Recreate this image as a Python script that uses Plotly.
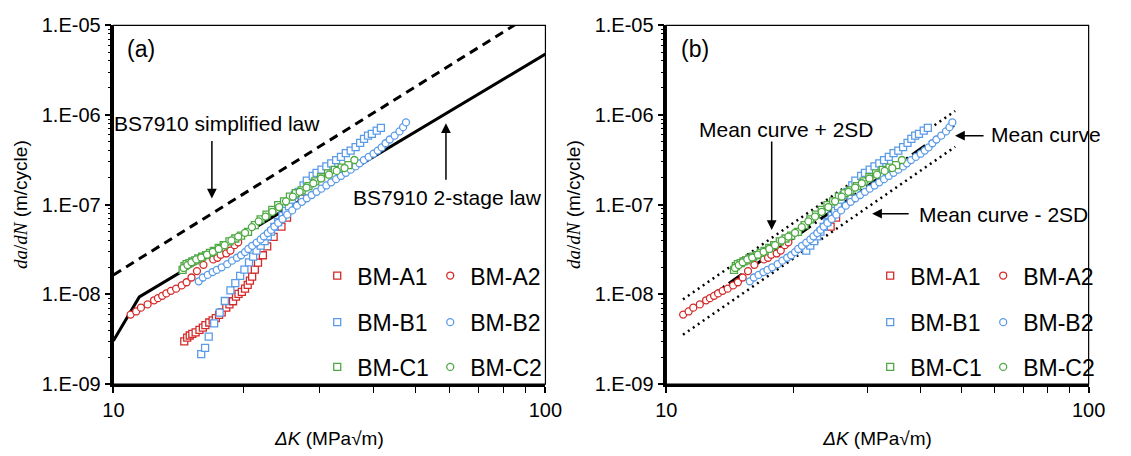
import plotly.graph_objects as go

# ---------------- data ----------------
A1_K = [14.59, 14.82, 15.02, 15.23, 15.50, 15.82, 16.11, 16.33, 16.67, 16.97, 17.26, 17.56, 17.81,
        18.25, 18.56, 18.92, 19.22, 19.48, 19.83, 20.17, 20.46, 20.70, 20.95, 21.25, 21.61, 22.18,
        22.70, 23.49, 24.49, 25.23, 25.79, 27.31]
A1_da = [3.00e-9, 3.29e-9, 3.48e-9, 3.62e-9, 3.77e-9, 4.03e-9, 4.26e-9, 4.55e-9, 4.86e-9, 5.14e-9,
         5.44e-9, 5.91e-9, 6.30e-9, 7.11e-9, 7.73e-9, 8.38e-9, 9.46e-9, 1.011e-8, 1.069e-8, 1.159e-8,
         1.279e-8, 1.423e-8, 1.581e-8, 1.89e-8, 2.26e-8, 2.73e-8, 3.43e-8, 4.38e-8, 5.70e-8, 7.19e-8,
         9.11e-8, 1.164e-7]

A2_K = [10.96, 11.29, 11.58, 12.00, 12.42, 12.68, 12.97, 13.26, 13.59, 13.97, 14.39, 14.77, 15.16,
        15.61, 16.16, 17.02, 17.41, 17.71, 18.25, 18.66, 19.08, 19.45]
A2_da = [5.95e-9, 6.45e-9, 7.11e-9, 7.73e-9, 8.59e-9, 9.08e-9, 9.63e-9, 1.026e-8, 1.096e-8, 1.159e-8,
         1.260e-8, 1.366e-8, 1.543e-8, 1.817e-8, 2.135e-8, 2.455e-8, 2.56e-8, 2.77e-8, 2.86e-8,
         3.08e-8, 3.54e-8, 3.81e-8]

B1_K = [15.97, 16.30, 16.62, 17.11, 17.62, 18.11, 18.66, 19.15, 19.65, 20.10, 20.60, 21.06, 21.44,
        21.92, 22.39, 22.77, 23.17, 23.58, 24.07, 24.62, 25.09, 25.49, 25.89, 26.30, 26.85, 27.56,
        28.03, 28.93, 29.53, 30.31, 31.11, 31.93, 32.77, 33.63, 34.51, 35.42, 36.36, 37.25, 38.03,
        38.84, 39.65, 40.69, 41.61]
B1_da = [2.16e-9, 2.53e-9, 3.39e-9, 4.74e-9, 6.25e-9, 8.44e-9, 1.110e-8, 1.332e-8, 1.608e-8, 1.89e-8,
         2.27e-8, 2.64e-8, 3.08e-8, 3.50e-8, 3.93e-8, 4.44e-8, 5.02e-8, 5.67e-8, 6.41e-8, 7.55e-8,
         8.53e-8, 9.64e-8, 1.136e-7, 1.283e-7, 1.390e-7, 1.638e-7, 1.851e-7, 2.091e-7, 2.267e-7,
         2.458e-7, 2.67e-7, 2.89e-7, 3.14e-7, 3.41e-7, 3.76e-7, 4.01e-7, 4.38e-7, 4.89e-7, 5.42e-7,
         5.88e-7, 6.17e-7, 6.69e-7, 7.20e-7]

B2_K = [15.76, 16.11, 16.53, 16.97, 17.35, 17.81, 18.34, 18.82, 19.32, 19.75, 20.17, 20.52, 20.95,
        21.44, 21.92, 22.30, 22.77, 23.17, 23.58, 24.07, 24.62, 25.26, 25.93, 26.61, 27.31, 28.03,
        28.77, 29.53, 30.31, 31.11, 31.93, 32.77, 33.63, 34.51, 35.42, 36.36, 37.12, 37.98, 38.97,
        40.00, 40.91, 41.78, 42.65, 43.61, 44.76, 45.94, 46.83, 47.56]
B2_da = [1.399e-8, 1.543e-8, 1.648e-8, 1.774e-8, 1.876e-8, 2.004e-8, 2.172e-8, 2.377e-8, 2.56e-8,
         2.73e-8, 2.96e-8, 3.21e-8, 3.48e-8, 3.78e-8, 4.10e-8, 4.44e-8, 4.83e-8, 5.23e-8, 5.70e-8,
         6.26e-8, 6.93e-8, 7.74e-8, 8.64e-8, 9.76e-8, 1.076e-7, 1.180e-7, 1.283e-7, 1.390e-7, 1.508e-7,
         1.638e-7, 1.776e-7, 1.925e-7, 2.091e-7, 2.267e-7, 2.458e-7, 2.67e-7, 2.89e-7, 3.14e-7,
         3.41e-7, 3.70e-7, 4.01e-7, 4.35e-7, 4.84e-7, 5.33e-7, 5.88e-7, 6.56e-7, 7.32e-7, 8.27e-7]

C1_K = [14.46, 14.61, 14.77, 15.00, 15.23, 15.47, 15.72, 16.05, 16.39, 16.73, 17.08, 17.53, 18.00,
        18.56, 19.15, 19.75, 20.49, 21.25, 21.92, 22.62, 23.33, 24.07, 24.83, 25.62, 26.43, 27.27,
        28.28, 29.33, 30.25, 31.38, 32.54, 33.75, 34.99]
C1_da = [1.876e-8, 2.068e-8, 2.172e-8, 2.226e-8, 2.337e-8, 2.394e-8, 2.514e-8, 2.64e-8, 2.74e-8,
         2.91e-8, 3.06e-8, 3.29e-8, 3.54e-8, 3.90e-8, 4.20e-8, 4.52e-8, 4.98e-8, 5.91e-8, 6.85e-8,
         7.74e-8, 8.74e-8, 9.88e-8, 1.089e-7, 1.231e-7, 1.341e-7, 1.443e-7, 1.610e-7, 1.820e-7,
         2.031e-7, 2.239e-7, 2.440e-7, 2.593e-7, 2.756e-7]

C2_K = [14.54, 14.84, 15.16, 15.55, 15.97, 16.47, 16.99, 17.53, 18.09, 18.76, 19.45, 20.17, 20.92,
        21.69, 22.50, 23.33, 24.19, 25.09, 26.02, 26.99, 27.99, 29.03, 30.25, 31.54, 32.88, 34.28,
        36.12]
C2_da = [1.970e-8, 2.120e-8, 2.281e-8, 2.455e-8, 2.577e-8, 2.77e-8, 2.98e-8, 3.21e-8, 3.54e-8,
         4.00e-8, 4.41e-8, 4.86e-8, 5.63e-8, 6.52e-8, 7.37e-8, 8.33e-8, 9.41e-8, 1.089e-7, 1.231e-7,
         1.390e-7, 1.552e-7, 1.733e-7, 1.958e-7, 2.158e-7, 2.380e-7, 2.562e-7, 3.15e-7]

# panel (b) only shows the stage-II (Paris region) part of A1 and B1
A1_b_start_K = 24.0
B1_b_start_K = 21.3

# BS7910 laws (panel a)
simp_K = [10, 100]
simp_da = [1.647e-8, 1.647e-5]
two_K = [10, 11.48, 100]
two_da = [3.04e-9, 9.38e-9, 4.78e-6]

# Mean curve and +/- 2SD (panel b)
mean_K = [10.95, 48.3]
mean_da = [5.8e-9, 7.82e-7]
upper_da = [8.8e-9, 1.109e-6]
lower_da = [3.55e-9, 4.42e-7]

y_tickvals = [1e-9, 1e-8, 1e-7, 1e-6, 1e-5]
y_ticktext = ["1.E-09", "1.E-08", "1.E-07", "1.E-06", "1.E-05"]
x_tickvals = [10, 100]
x_ticktext = ["10", "100"]


def subset(K, da, kmin):
    pairs = [(k, d) for k, d in zip(K, da) if k >= kmin]
    return [p[0] for p in pairs], [p[1] for p in pairs]


A1b_K, A1b_da = subset(A1_K, A1_da, A1_b_start_K)
B1b_K, B1b_da = subset(B1_K, B1_da, B1_b_start_K)

RED, BLUE, GREEN = "#D42A2A", "#5A9BE8", "#4EA843"
series_a = [
    ("BM-A1", A1_K, A1_da, "square", RED),
    ("BM-A2", A2_K, A2_da, "circle", RED),
    ("BM-B1", B1_K, B1_da, "square", BLUE),
    ("BM-B2", B2_K, B2_da, "circle", BLUE),
    ("BM-C1", C1_K, C1_da, "square", GREEN),
    ("BM-C2", C2_K, C2_da, "circle", GREEN),
]
series_b = [
    ("BM-A1", A1b_K, A1b_da, "square", RED),
    ("BM-A2", A2_K, A2_da, "circle", RED),
    ("BM-B1", B1b_K, B1b_da, "square", BLUE),
    ("BM-B2", B2_K, B2_da, "circle", BLUE),
    ("BM-C1", C1_K, C1_da, "square", GREEN),
    ("BM-C2", C2_K, C2_da, "circle", GREEN),
]

FONT = "Liberation Sans, Arial, sans-serif"
W, H = 1131, 456

fig = go.Figure()

# lines panel a
fig.add_trace(go.Scatter(x=simp_K, y=simp_da, mode="lines", line=dict(color="black", width=3, dash="9px,6px"),
                         showlegend=False, xaxis="x", yaxis="y"))
fig.add_trace(go.Scatter(x=two_K, y=two_da, mode="lines", line=dict(color="black", width=3),
                         showlegend=False, xaxis="x", yaxis="y"))
# lines panel b
fig.add_trace(go.Scatter(x=mean_K, y=mean_da, mode="lines", line=dict(color="black", width=3, dash="16px,5px,2px,5px"),
                         showlegend=False, xaxis="x2", yaxis="y2"))
fig.add_trace(go.Scatter(x=mean_K, y=upper_da, mode="lines", line=dict(color="black", width=2.5, dash="2px,4px"),
                         showlegend=False, xaxis="x2", yaxis="y2"))
fig.add_trace(go.Scatter(x=mean_K, y=lower_da, mode="lines", line=dict(color="black", width=2.5, dash="2px,4px"),
                         showlegend=False, xaxis="x2", yaxis="y2"))

# one horizontal legend per legend row (2 entries each), 3 rows per panel
legend_names = [["legend", "legend2", "legend3"], ["legend4", "legend5", "legend6"]]
for panel, (xa, ya, ser) in enumerate([("x", "y", series_a), ("x2", "y2", series_b)]):
    for i, (name, K, da, sym, col) in enumerate(ser):
        fig.add_trace(go.Scatter(
            x=K, y=da, mode="markers", name=name,
            marker=dict(symbol=sym, size=7, color="white", line=dict(color=col, width=1.3)),
            xaxis=xa, yaxis=ya, legend=legend_names[panel][i // 2],
        ))

xd1 = [105 / W, 548 / W]
xd2 = [672 / W, 1105 / W]
yd = [1 - 392 / H, 1 - 15 / H]

minor_x = [20, 30, 40, 50, 60, 70, 80, 90]
minor_y = [m * 10.0 ** e for e in range(-9, -5) for m in range(2, 10)]


def xaxis(domain, anchor):
    return dict(type="log", range=[1, 2], domain=domain, anchor=anchor,
                tickvals=x_tickvals, ticktext=x_ticktext, ticks="outside", ticklen=6, tickwidth=1.5,
                tickcolor="black", showline=True, linecolor="black", linewidth=2.5, mirror=False,
                showgrid=False, zeroline=False,
                tickfont=dict(family=FONT, size=20, color="black"),
                minor=dict(tickvals=minor_x, ticks="outside", ticklen=6, tickwidth=1.3, tickcolor="black", showgrid=False),
                title=dict(text="<i>ΔK</i> (MPa√m)", font=dict(family=FONT, size=19, color="black"), standoff=12))


def yaxis(domain, anchor):
    return dict(type="log", range=[-9, -5], domain=domain, anchor=anchor,
                tickvals=y_tickvals, ticktext=y_ticktext, ticks="outside", ticklen=6, tickwidth=1.5,
                tickcolor="black", showline=True, linecolor="black", linewidth=2.5, mirror=False,
                showgrid=False, zeroline=False,
                tickfont=dict(family=FONT, size=20, color="black"),
                minor=dict(tickvals=minor_y, ticks="outside", ticklen=3, tickwidth=1, tickcolor="black", showgrid=False),
                title=dict(text="<span style='font-family:Liberation Serif'><i>da</i>/<i>dN</i></span> (m/cycle)",
                           font=dict(family=FONT, size=19, color="black"), standoff=10))


def leg(xpx, ycenter):
    return dict(orientation="h", xanchor="left", yanchor="middle", x=xpx / W, y=1 - ycenter / H,
                bgcolor="rgba(0,0,0,0)", borderwidth=0, entrywidth=68, entrywidthmode="pixels",
                font=dict(family=FONT, size=23, color="black"), itemsizing="trace")


row_y = [278, 327, 374]
layout_legends = {}
for panel, x0 in enumerate([314, 881]):
    for r in range(3):
        layout_legends[legend_names[panel][r]] = leg(x0, row_y[r])

fig.update_layout(
    width=W, height=H, margin=dict(l=0, r=0, t=0, b=0),
    paper_bgcolor="white", plot_bgcolor="white",
    xaxis=xaxis(xd1, "y"), yaxis=yaxis(yd, "x"),
    xaxis2=xaxis(xd2, "y2"), yaxis2=yaxis(yd, "x2"),
    showlegend=True,
    **layout_legends,
)

# frames (top/right borders)
for xd in (xd1, xd2):
    fig.add_shape(type="rect", xref="paper", yref="paper", x0=xd[0], x1=xd[1], y0=yd[0], y1=yd[1],
                  line=dict(color="black", width=1.2), layer="above")


def txt(xpx, ypx, s, size=21, anchor="center"):
    fig.add_annotation(xref="paper", yref="paper", x=xpx / W, y=1 - ypx / H, text=s, showarrow=False,
                       xanchor=anchor, yanchor="middle", font=dict(family=FONT, size=size, color="black"))


def arrow(hx, hy, tx, ty):
    fig.add_annotation(xref="paper", yref="paper", x=hx / W, y=1 - hy / H, ax=tx - hx, ay=ty - hy,
                       axref="pixel", ayref="pixel", text="", showarrow=True, arrowhead=2,
                       arrowsize=1.3, arrowwidth=1.5, arrowcolor="black")


txt(117, 40, "(a)", 23, "left")
txt(685, 40, "(b)", 23, "left")
txt(211, 118, "BS7910 simplified law")
arrow(206, 197, 206, 138)
txt(448, 196, "BS7910 2-stage law")
arrow(446, 118, 446, 176)
txt(795, 124, "Mean curve + 2SD")
arrow(780, 230, 780, 140)
txt(1003, 130, "Mean curve", anchor="left")
arrow(968, 131, 998, 131)
txt(929, 214, "Mean curve - 2SD", anchor="left")
arrow(883, 213, 921, 213)

fig.write_html("out.html")
